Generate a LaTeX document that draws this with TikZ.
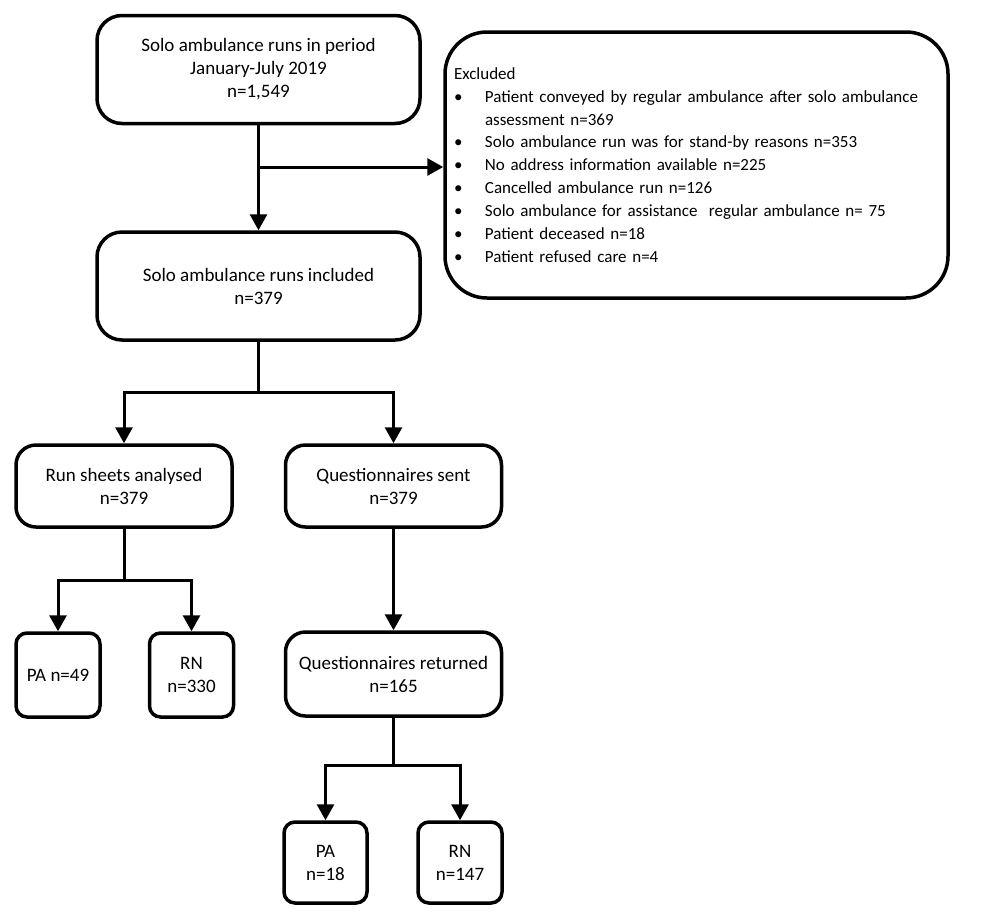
\documentclass[tikz,border=0pt]{standalone}
\usepackage{fontspec}
\setmainfont{Carlito}
\usetikzlibrary{arrows.meta}
\begin{document}
\begin{tikzpicture}[x=1pt,y=-1pt,
  every node/.style={font=\fontsize{19}{23}\selectfont},
  box/.style={draw, line width=3.5pt, rounded corners=#1, align=center, inner sep=0pt},
  box/.default=20pt,
  arr/.style={line width=3pt, -{Triangle[length=16pt,width=17pt]}},
  ln/.style={line width=3pt}]
\useasboundingbox (0,0) rectangle (1000,919);
% boxes
\node[box=25pt, minimum width=323pt, minimum height=108pt] (top) at (258.5,69.5)
  {Solo ambulance runs in period\\January-July 2019\\n=1,549};
\node[box=42pt, minimum width=503pt, minimum height=266pt, align=left, text width=485pt,
  font=\fontsize{17}{22.9}\selectfont] (excl) at (696.5,165)
  {Excluded\\
  \makebox[31pt][l]{•}Patient conveyed by regular ambulance after solo ambulance\\
  \hspace*{31pt}assessment n=369\\
  \makebox[31pt][l]{•}Solo ambulance run was for stand-by reasons n=353\\
  \makebox[31pt][l]{•}No address information available n=225\\
  \makebox[31pt][l]{•}Cancelled ambulance run n=126\\
  \makebox[31pt][l]{•}Solo ambulance for assistance\ \ regular ambulance n= 75\\
  \makebox[31pt][l]{•}Patient deceased n=18\\
  \makebox[31pt][l]{•}Patient refused care n=4};
\node[box=25pt, minimum width=323pt, minimum height=108pt] (incl) at (258.5,286)
  {Solo ambulance runs included\\n=379};
\node[box=20pt, minimum width=216pt, minimum height=82pt] (run) at (124,486)
  {Run sheets analysed\\n=379};
\node[box=20pt, minimum width=216pt, minimum height=82pt] (qs) at (393.5,486)
  {Questionnaires sent\\n=379};
\node[box=11pt, minimum width=84pt, minimum height=84pt] (pa1) at (58,675) {PA n=49};
\node[box=11pt, minimum width=84pt, minimum height=84pt] (rn1) at (191.5,675) {RN\\n=330};
\node[box=20pt, minimum width=216pt, minimum height=84pt] (qr) at (393.5,674)
  {Questionnaires returned\\n=165};
\node[box=11pt, minimum width=83pt, minimum height=81pt] (pa2) at (325.5,862.5) {PA\\n=18};
\node[box=11pt, minimum width=84pt, minimum height=81pt] (rn2) at (460,862.5) {RN\\n=147};
% junctions
\coordinate (j1) at (258.5,167);
\coordinate (j2) at (258.5,392);
\coordinate (j3) at (124,580);
\coordinate (j4) at (393.5,765);
% connectors
\draw[arr] (top.south) -- (incl.north);
\draw[arr] (j1) -- (excl.west |- j1);
\draw[ln] (incl.south) -- (j2);
\draw[arr] (j2) -| (run.north);
\draw[arr] (j2) -| (qs.north);
\draw[ln] (run.south) -- (j3);
\draw[arr] (j3) -| (pa1.north);
\draw[arr] (j3) -| (rn1.north);
\draw[arr] (qs.south) -- (qr.north);
\draw[ln] (qr.south) -- (j4);
\draw[arr] (j4) -| (pa2.north);
\draw[arr] (j4) -| (rn2.north);
\end{tikzpicture}
\end{document}
